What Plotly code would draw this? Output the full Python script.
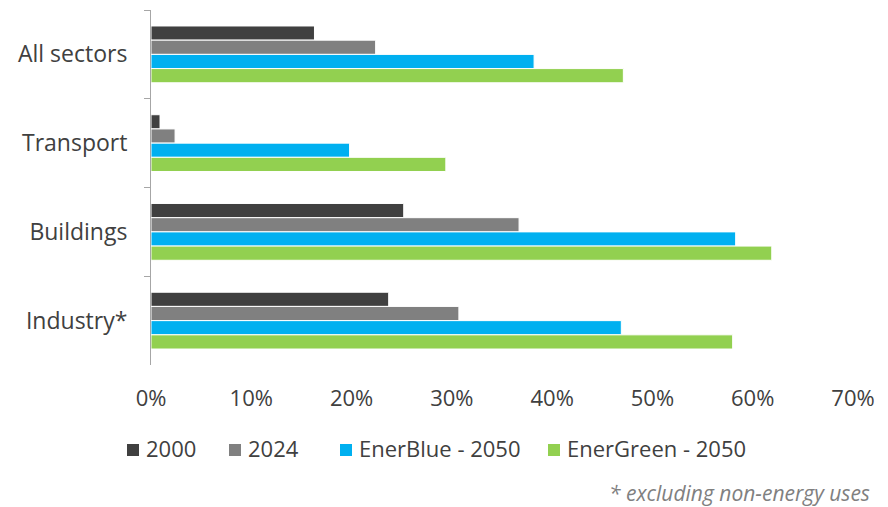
import plotly.graph_objects as go

categories = ["All sectors", "Transport", "Buildings", "Industry*"]
series_names = ["2000", "2024", "EnerBlue - 2050", "EnerGreen - 2050"]
v2000 = [16.3, 0.9, 25.2, 23.7]
v2024 = [22.4, 2.4, 36.7, 30.7]
vblue = [38.2, 19.8, 58.3, 46.9]
vgreen = [47.1, 29.4, 61.9, 58.0]
x_ticks = [0, 10, 20, 30, 40, 50, 60, 70]
x_tick_labels = ["0%", "10%", "20%", "30%", "40%", "50%", "60%", "70%"]

colors = ["#404040", "#808080", "#00B0F0", "#92D050"]
values = [v2000, v2024, vblue, vgreen]

L, R, T, B = 151, 35, 10, 142
W, H = 888, 507
PW, PH = W - L - R, H - T - B

fig = go.Figure()
for name, vals, col in zip(series_names, values, colors):
    fig.add_trace(go.Bar(
        y=categories, x=vals, name=name, orientation="h",
        marker=dict(color=col, line=dict(color="white", width=1)),
        showlegend=False,
    ))

font_family = "Open Sans, Noto Sans, sans-serif"

# custom legend: small squares + text
legend_px = [127, 229, 340, 548]
legend_y_px = 448
shapes = []
annotations = []
for px, name, col in zip(legend_px, series_names, colors):
    x0 = (px - L) / PW
    x1 = (px + 12 - L) / PW
    y0 = (H - B - 456) / PH
    y1 = (H - B - 444) / PH
    shapes.append(dict(type="rect", xref="paper", yref="paper", x0=x0, x1=x1,
                       y0=y0, y1=y1, fillcolor=col, line=dict(width=0)))
    annotations.append(dict(text=name, xref="paper", yref="paper",
                            x=(px + 17 - L) / PW, y=(H - B - legend_y_px) / PH,
                            xanchor="left", yanchor="middle", showarrow=False,
                            font=dict(size=22, color="#404040", family=font_family)))

annotations.append(dict(text="<i>* excluding non-energy uses</i>", xref="paper", yref="paper",
                        x=(872 - L) / PW, y=(H - B - 493) / PH, xanchor="right", yanchor="middle",
                        showarrow=False,
                        font=dict(size=21, color="#808080", family=font_family)))

fig.update_layout(
    width=W, height=H,
    margin=dict(l=L, r=R, t=T, b=B),
    paper_bgcolor="white", plot_bgcolor="white",
    barmode="group", bargap=0.36, bargroupgap=0.0,
    font=dict(family=font_family, color="#404040", size=22),
    showlegend=False,
    xaxis=dict(range=[0, 70], tickvals=x_ticks, ticktext=x_tick_labels,
               showgrid=False, zeroline=False, showline=False, ticks="",
               tickfont=dict(size=22, color="#404040"), ticklabelstandoff=18),
    yaxis=dict(autorange="reversed", showline=True, linecolor="#a6a6a6", linewidth=1,
               ticks="outside", tickson="boundaries", ticklen=6, tickcolor="#a6a6a6",
               showgrid=False, tickfont=dict(size=23, color="#404040"),
               ticklabelstandoff=18),
    shapes=shapes,
    annotations=annotations,
)

fig.write_html("out.html")
